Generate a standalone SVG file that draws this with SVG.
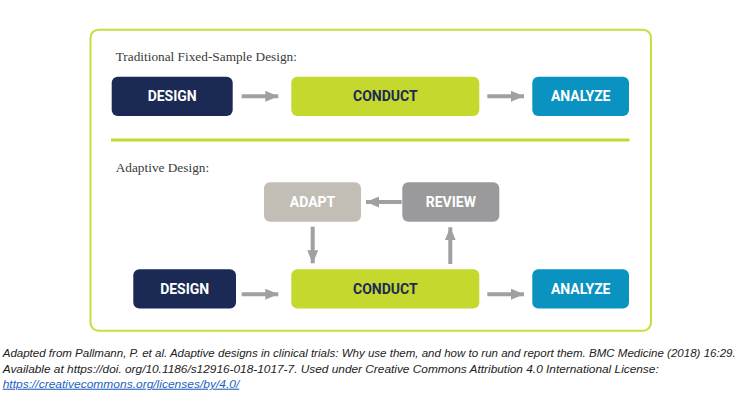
<svg xmlns="http://www.w3.org/2000/svg" width="738" height="415" viewBox="0 0 738 415">
<defs>
<style>
.box{stroke:none}
.lbl{font-family:Roboto,"Liberation Sans",sans-serif;font-weight:bold;font-size:14px;text-anchor:middle}
.w{fill:#ffffff}
.n{fill:#1b2a55}
.hdr{font-family:"Liberation Serif",serif;font-size:13.3px;fill:#3a3a3a}
.cap{font-family:"Liberation Sans",sans-serif;font-style:italic;font-size:10.8px;fill:#222222}
.link{fill:#1f5fbf;text-decoration:underline}
.arr{stroke:#a0a0a0;stroke-width:4;fill:none;marker-end:url(#ah)}
</style>
<marker id="ah" markerUnits="userSpaceOnUse" markerWidth="13" markerHeight="11" refX="13" refY="5.5" orient="auto" viewBox="0 0 13 11">
<path d="M0,0 L13,5.5 L0,11 Z" fill="#a0a0a0"/>
</marker>
</defs>
<rect x="0" y="0" width="738" height="415" fill="#ffffff"/>
<rect id="frame" x="90.5" y="29.7" width="560.5" height="301" rx="8" fill="none" stroke="#c8dc3c" stroke-width="2"/>
<line id="separator" x1="111" y1="140" x2="629.5" y2="140" stroke="#c5d82e" stroke-width="3"/>
<text class="hdr" x="115.7" y="61">Traditional Fixed-Sample Design:</text>
<text class="hdr" x="115.7" y="172.3">Adaptive Design:</text>

<g id="design1"><rect class="box" x="111.7" y="76.7" width="121" height="39.3" rx="6" fill="#1b2a55"/><text class="lbl w" x="172.2" y="101.3">DESIGN</text></g>
<g id="conduct1"><rect class="box" x="291.3" y="76.7" width="188" height="39.3" rx="6" fill="#c5d82e"/><text class="lbl n" x="385.3" y="101.3">CONDUCT</text></g>
<g id="analyze1"><rect class="box" x="532.3" y="76.7" width="96.7" height="39.3" rx="6" fill="#0a92c1"/><text class="lbl w" x="580.7" y="101.3">ANALYZE</text></g>

<g id="adapt"><rect class="box" x="264" y="182.3" width="97" height="39.4" rx="6" fill="#c2beb5"/><text class="lbl w" x="312.5" y="207">ADAPT</text></g>
<g id="review"><rect class="box" x="402.3" y="182.3" width="97" height="39.4" rx="6" fill="#9a9a9c"/><text class="lbl w" x="450.8" y="207">REVIEW</text></g>
<g id="design2"><rect class="box" x="133.3" y="269.3" width="102.7" height="39.3" rx="6" fill="#1b2a55"/><text class="lbl w" x="184.7" y="294">DESIGN</text></g>
<g id="conduct2"><rect class="box" x="291.3" y="269.3" width="188" height="39.3" rx="6" fill="#c5d82e"/><text class="lbl n" x="385.3" y="294">CONDUCT</text></g>
<g id="analyze2"><rect class="box" x="532.3" y="269.3" width="96.7" height="39.3" rx="6" fill="#0a92c1"/><text class="lbl w" x="580.7" y="294">ANALYZE</text></g>

<g id="connectors">
<line class="arr" x1="241.7" y1="96.3" x2="278.3" y2="96.3"/>
<line class="arr" x1="487.3" y1="96.3" x2="524" y2="96.3"/>
<line class="arr" x1="241.7" y1="294.2" x2="278.3" y2="294.2"/>
<line class="arr" x1="487.3" y1="294.2" x2="524" y2="294.2"/>
<line class="arr" x1="401.7" y1="202" x2="366" y2="202"/>
<line class="arr" x1="312.7" y1="226.7" x2="312.7" y2="263.3"/>
<line class="arr" x1="450.3" y1="264" x2="450.3" y2="227.3"/>
</g>

<text class="cap" x="2.7" y="356.7" textLength="733" lengthAdjust="spacingAndGlyphs">Adapted from Pallmann, P. et al. Adaptive designs in clinical trials: Why use them, and how to run and report them. BMC Medicine (2018) 16:29.</text>
<text class="cap" x="2.7" y="372.7" textLength="656" lengthAdjust="spacingAndGlyphs">Available at https://doi. org/10.1186/s12916-018-1017-7. Used under Creative Commons Attribution 4.0 International License:</text>
<text class="cap link" x="2.7" y="387.7" textLength="236.6" lengthAdjust="spacingAndGlyphs">https://creativecommons.org/licenses/by/4.0/</text>
</svg>
